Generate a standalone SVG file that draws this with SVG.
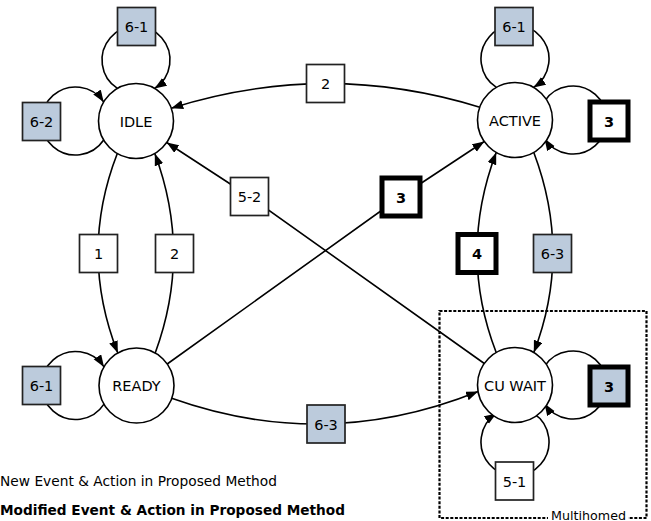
<svg xmlns="http://www.w3.org/2000/svg" width="651" height="521" viewBox="0 0 651 521">
  <defs>
    <marker id="arrow" markerUnits="userSpaceOnUse" markerWidth="13" markerHeight="10" refX="12" refY="4.5" orient="auto">
      <path d="M0,0 L12,4.5 L0,9 z" fill="#000"/>
    </marker>
    <style>
      .state { fill: #fff; stroke: #000; stroke-width: 1.6; }
      .lbl { font-family: "DejaVu Sans", Verdana, sans-serif; font-size: 14.5px; fill: #000; text-anchor: middle; }
      .bold { font-weight: bold; }
      .edge { fill: none; stroke: #000; stroke-width: 1.6; }
      .arr { marker-end: url(#arrow); }
      .box { fill: #fff; stroke: #222; stroke-width: 1.7; }
      .box.blue { fill: #bccbdc; }
      .box.heavy { stroke: #000; stroke-width: 5; }
      .legend { font-family: "DejaVu Sans", Verdana, sans-serif; font-size: 14px; fill: #000; }
    </style>
  </defs>

  <rect width="651" height="521" fill="#fff"/>

  <!-- multihomed region -->
  <g id="multihomed">
    <rect x="439.5" y="311" width="207" height="207" fill="none" stroke="#000" stroke-width="2.2" stroke-dasharray="3,1.6"/>
    <rect x="548" y="506" width="80" height="15" fill="#fff"/>
    <text x="588.5" y="519.5" class="legend" style="font-size:12.7px" text-anchor="middle">Multihomed</text>
  </g>

  <!-- connectors -->
  <g id="connectors">
    <!-- self loops -->
    <path class="edge arr" d="M117.4,88.45 A34,34 0 1 1 154.6,88.45"/>
    <path class="edge arr" d="M103.7,140 A34,34 0 1 1 103.7,102"/>
    <path class="edge arr" d="M496.4,87.45 A34,34 0 1 1 533.6,87.45"/>
    <path class="edge arr" d="M544.45,101.4 A34,34 0 1 1 544.45,138.6"/>
    <path class="edge arr" d="M104,404.1 A34,34 0 1 1 104,366.9"/>
    <path class="edge arr" d="M544.45,366.4 A34,34 0 1 1 544.45,403.6"/>
    <path class="edge arr" d="M533.6,413.45 A34,34 0 1 1 496.4,413.45"/>
    <!-- ACTIVE to IDLE -->
    <path class="edge arr" d="M479.8,107.2 Q325.5,59.5 171.2,108.2"/>
    <!-- IDLE to READY -->
    <path class="edge arr" d="M117.3,153.5 Q78.6,253 117.8,353"/>
    <!-- READY to IDLE -->
    <path class="edge arr" d="M155.2,353 Q192,253 154.8,153.5"/>
    <!-- ACTIVE to CU WAIT -->
    <path class="edge arr" d="M533.8,152.5 Q572,253.5 533.8,352.5"/>
    <!-- CU WAIT to ACTIVE -->
    <path class="edge arr" d="M496.2,352.5 Q458,253.5 496.2,152.5"/>
    <!-- READY to ACTIVE -->
    <path class="edge arr" d="M167.2,364 L401,196.5 L484.3,141.5"/>
    <!-- CU WAIT to IDLE -->
    <path class="edge arr" d="M484.3,363.5 L249.5,196.5 L166.7,142.5"/>
    <!-- READY to CU WAIT -->
    <path class="edge arr" d="M171.7,398.3 Q325,453 478.1,391.5"/>
  </g>

  <!-- states -->
  <g id="idle"><circle class="state" cx="136" cy="121" r="37.5"/><text class="lbl" x="136" y="126.5">IDLE</text></g>
  <g id="active"><circle class="state" cx="515" cy="120" r="37.5"/><text class="lbl" x="515" y="125.5">ACTIVE</text></g>
  <g id="ready"><circle class="state" cx="136.5" cy="385.5" r="37.5"/><text class="lbl" x="136.5" y="391">READY</text></g>
  <g id="cuwait"><circle class="state" cx="515" cy="385" r="37.5"/><text class="lbl" x="515" y="390.5">CU WAIT</text></g>

  <!-- event/action labels -->
  <g id="idle-6-1"><rect class="box blue" x="117.5" y="7.5" width="38" height="38"/><text class="lbl" x="136.5" y="32">6-1</text></g>
  <g id="idle-6-2"><rect class="box blue" x="22.5" y="102.5" width="38" height="38"/><text class="lbl" x="41.5" y="127">6-2</text></g>
  <g id="active-6-1"><rect class="box blue" x="495" y="7.5" width="38" height="38"/><text class="lbl" x="514" y="32">6-1</text></g>
  <g id="active-3"><rect class="box heavy" x="590" y="102" width="38" height="38"/><text class="lbl bold" x="609" y="126.5">3</text></g>
  <g id="top-2"><rect class="box" x="306.5" y="64.5" width="38" height="38"/><text class="lbl" x="325.5" y="89">2</text></g>
  <g id="left-1"><rect class="box" x="79.5" y="234.5" width="38" height="38"/><text class="lbl" x="98.5" y="259">1</text></g>
  <g id="left-2"><rect class="box" x="155.5" y="234.5" width="38" height="38"/><text class="lbl" x="174.5" y="259">2</text></g>
  <g id="mid-5-2"><rect class="box" x="230.5" y="177.5" width="38" height="38"/><text class="lbl" x="249.5" y="202">5-2</text></g>
  <g id="mid-3"><rect class="box heavy" x="382" y="178" width="38" height="38"/><text class="lbl bold" x="401" y="202.5">3</text></g>
  <g id="right-4"><rect class="box heavy" x="458" y="234.5" width="38" height="38"/><text class="lbl bold" x="477" y="259">4</text></g>
  <g id="right-6-3"><rect class="box blue" x="533.5" y="234.5" width="38" height="38"/><text class="lbl" x="552.5" y="259">6-3</text></g>
  <g id="ready-6-1"><rect class="box blue" x="22.5" y="366.5" width="38" height="38"/><text class="lbl" x="41.5" y="391">6-1</text></g>
  <g id="bottom-6-3"><rect class="box blue" x="307" y="405" width="38" height="38"/><text class="lbl" x="326" y="429.5">6-3</text></g>
  <g id="cuwait-3"><rect class="box blue heavy" x="590" y="367" width="38" height="38"/><text class="lbl bold" x="609" y="391.5">3</text></g>
  <g id="cuwait-5-1"><rect class="box" x="495.5" y="462" width="38" height="38"/><text class="lbl" x="514.5" y="486.5">5-1</text></g>

  <!-- legend -->
  <g id="legend">
    <text class="legend" x="0" y="485.7" textLength="277" lengthAdjust="spacingAndGlyphs">New Event &amp; Action in Proposed Method</text>
    <text class="legend bold" x="0" y="515" textLength="345" lengthAdjust="spacingAndGlyphs" font-weight="bold">Modified Event &amp; Action in Proposed Method</text>
  </g>
</svg>
